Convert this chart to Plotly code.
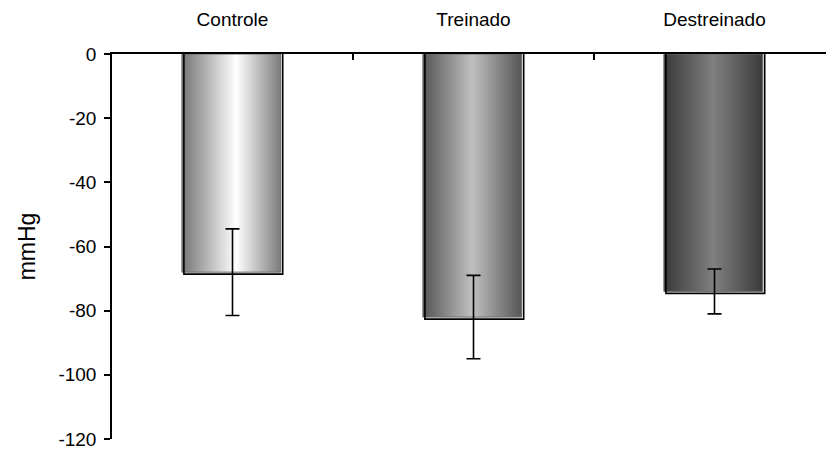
import plotly.graph_objects as go

# Mean change in pressure (mmHg) per group, with error bar half-lengths
groups = ["Controle", "Treinado", "Destreinado"]
means = [-68, -82, -74]
errors = [13.5, 13, 7]

# y-axis ticks, labelled with a plain hyphen
y_ticks = [0, -20, -40, -60, -80, -100, -120]
y_tick_text = ["0", "-20", "-40", "-60", "-80", "-100", "-120"]

# Horizontal shading for each bar: edge, centre, edge
shades = [
    [[0, "#747474"], [0.55, "#ffffff"], [1, "#7c7c7c"]],
    [[0, "#555555"], [0.5, "#c0c0c0"], [1, "#555555"]],
    [[0, "#3a3a3a"], [0.5, "#808080"], [1, "#3a3a3a"]],
]

W, H = 826, 451
M_L, M_R, M_T, M_B = 112, 0, 54, 12
CAT_PX = 241                      # pixel width of one category
X_MIN = -0.5
X_MAX = X_MIN + (W - M_L - M_R) / CAT_PX
Y_MIN, Y_MAX = -120, 0
PX_PER_UNIT = (H - M_T - M_B) / (Y_MAX - Y_MIN)

BAR_W = 0.41
SHADOW_DX = 2 / CAT_PX            # outline sits ~2px right and below the fill
SHADOW_DY = 2 / PX_PER_UNIT

FONT = "Liberation Sans, Arial, sans-serif"

fig = go.Figure()

for i, (g, m) in enumerate(zip(groups, means)):
    x0, x1 = i - BAR_W / 2 - 0.005, i + BAR_W / 2 - 0.005
    # shaded fill
    fig.add_trace(go.Scatter(
        x=[x0, x1, x1, x0, x0], y=[0, 0, m, m, 0],
        mode="lines", fill="toself",
        fillgradient=dict(type="horizontal", colorscale=shades[i]),
        line=dict(color="#6a6a6a", width=1),
        hoverinfo="skip", showlegend=False,
    ))
    # black outline, slightly offset
    fig.add_trace(go.Scatter(
        x=[x0 + SHADOW_DX, x0 + SHADOW_DX, x1 + SHADOW_DX, x1 + SHADOW_DX],
        y=[0, m - SHADOW_DY, m - SHADOW_DY, 0],
        mode="lines", line=dict(color="black", width=1.6),
        hoverinfo="skip", showlegend=False,
    ))

# error bars
fig.add_trace(go.Scatter(
    x=list(range(len(groups))), y=means,
    mode="markers", marker=dict(size=1, color="rgba(0,0,0,0)"),
    error_y=dict(type="data", array=errors, visible=True,
                 color="black", thickness=1.6, width=7),
    hoverinfo="skip", showlegend=False,
))

# invisible trace to attach the boundary-tick axis
fig.add_trace(go.Scatter(x=[0], y=[0], xaxis="x2", mode="markers",
                         marker=dict(size=1, color="rgba(0,0,0,0)"),
                         hoverinfo="skip", showlegend=False))

fig.update_layout(
    width=W, height=H,
    margin=dict(l=M_L, r=M_R, t=M_T, b=M_B),
    paper_bgcolor="white", plot_bgcolor="white",
    font=dict(family=FONT, size=19, color="black"),
    xaxis=dict(
        range=[X_MIN, X_MAX], side="top",
        tickvals=list(range(len(groups))), ticktext=groups,
        ticks="", ticklabelstandoff=18,
        showline=True, linecolor="black", linewidth=2,
        showgrid=False, zeroline=False,
        tickfont=dict(size=19),
    ),
    xaxis2=dict(
        range=[X_MIN, X_MAX], overlaying="x", side="top",
        tickvals=[0.5, 1.5], ticks="inside", ticklen=6, tickwidth=1.5,
        tickcolor="black", showticklabels=False,
        showline=False, showgrid=False, zeroline=False,
    ),
    yaxis=dict(
        range=[Y_MIN, Y_MAX], tickvals=y_ticks, ticktext=y_tick_text,
        ticks="outside", ticklen=6, tickwidth=1.5, tickcolor="black",
        showline=True, linecolor="black", linewidth=1.5,
        showgrid=False, zeroline=False,
        tickfont=dict(size=19), ticklabelstandoff=4,
        title=dict(text="mmHg", font=dict(size=23), standoff=16),
    ),
)

fig.write_html("out.html")
